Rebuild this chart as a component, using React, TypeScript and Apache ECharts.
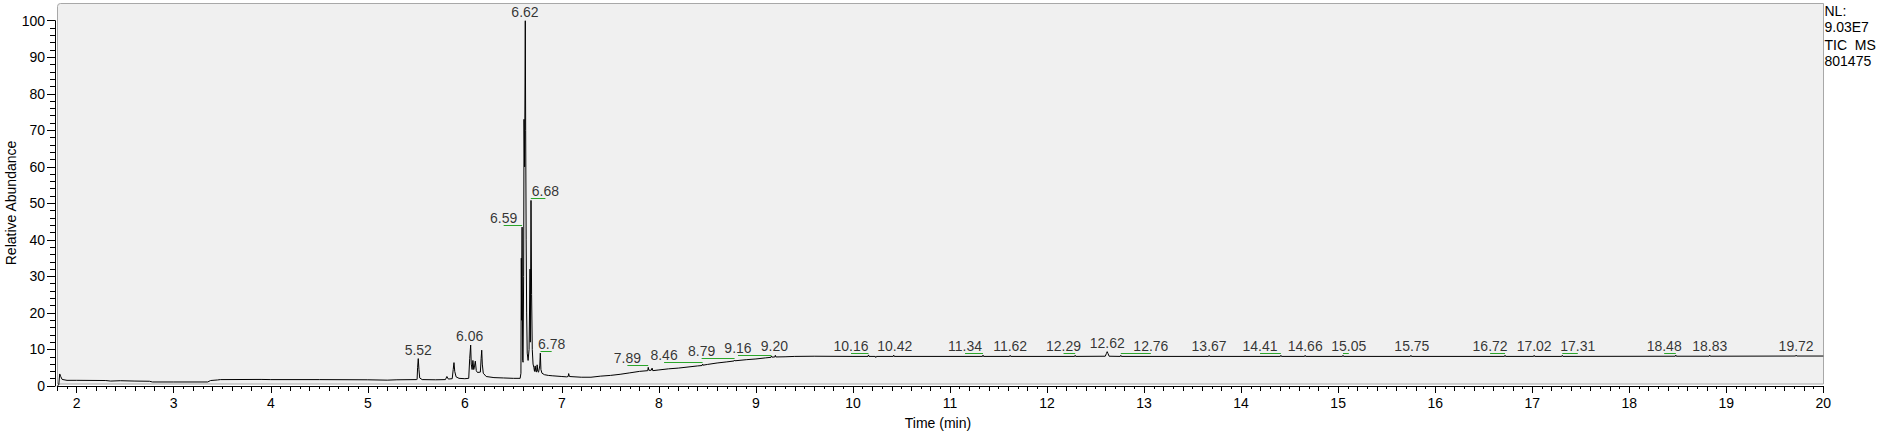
import React, { useEffect, useRef } from "react";
import * as echarts from "echarts";

// ---------- data ----------
const TRACE_EARLY: [number, number][] = [
  [1.8, 0], [1.815, 0.3], [1.825, 3.3], [1.835, 2.6], [1.85, 1.8], [1.9, 1.55],
  [2.0, 1.55], [2.3, 1.5], [2.35, 1.35], [2.45, 1.45], [2.6, 1.35], [2.75, 1.3],
  [2.78, 1.1], [3.0, 1.1], [3.35, 1.1], [3.38, 1.5], [3.45, 1.65], [3.48, 1.75],
  [3.9, 1.8], [4.0, 1.75], [4.5, 1.75], [5.0, 1.7], [5.2, 1.6], [5.3, 1.7], [5.5, 1.75],
];

const TRACE_CLUSTER: [number, number][] = [
  [5.508, 1.8], [5.513, 5.0], [5.52, 7.5], [5.527, 4.5], [5.535, 2.2], [5.56, 1.75],
  [5.7, 1.7], [5.8, 1.75], [5.815, 2.6], [5.83, 1.9], [5.87, 2.0], [5.88, 4.5],
  [5.888, 6.4], [5.896, 4.0], [5.91, 2.5], [5.94, 2.1], [6.0, 2.0], [6.04, 2.1],
  [6.05, 7.5], [6.06, 11.2], [6.066, 6.0], [6.075, 4.5], [6.083, 7.0], [6.092, 4.5],
  [6.1, 5.5], [6.108, 6.8], [6.118, 4.2], [6.13, 3.7], [6.16, 3.8], [6.168, 7.5],
  [6.174, 9.8], [6.18, 6.0], [6.19, 3.5], [6.22, 2.6], [6.3, 2.3], [6.4, 2.2],
  [6.5, 2.1], [6.57, 2.1], [6.578, 3.5], [6.582, 35], [6.585, 18], [6.59, 43.5],
  [6.596, 7], [6.6, 6.5], [6.606, 30], [6.61, 73], [6.616, 60], [6.623, 100],
  [6.627, 70], [6.632, 40], [6.637, 20], [6.643, 9], [6.652, 7], [6.662, 10],
  [6.672, 32], [6.675, 12], [6.682, 50.8], [6.688, 25], [6.695, 10], [6.703, 6],
  [6.712, 5], [6.718, 4], [6.725, 5.5], [6.732, 4], [6.739, 3.8], [6.745, 5.8],
  [6.752, 4], [6.76, 3.8], [6.772, 5.5], [6.778, 9.0], [6.784, 4.5], [6.795, 3.5],
  [6.82, 3.1], [6.86, 2.9], [6.9, 2.8],
];

const TRACE_RAMP: [number, number][] = [
  [7.0, 2.6], [7.05, 2.5], [7.065, 2.6], [7.07, 3.4], [7.078, 2.6], [7.2, 2.4],
  [7.3, 2.4], [7.4, 2.7], [7.5, 2.9], [7.6, 3.2], [7.7, 3.6], [7.8, 4.0],
  [7.885, 4.2], [7.89, 5.1], [7.897, 4.3], [7.92, 4.3], [7.93, 4.9], [7.937, 4.2],
  [8.0, 4.4], [8.1, 4.7], [8.2, 4.9], [8.3, 5.2], [8.4, 5.5], [8.445, 5.6],
  [8.45, 6.0], [8.455, 5.7], [8.5, 5.9], [8.6, 6.3], [8.7, 6.6], [8.775, 6.85],
  [8.78, 7.1], [8.785, 6.9], [8.9, 7.2], [9.0, 7.4], [9.1, 7.7], [9.155, 7.85],
  [9.16, 8.2], [9.165, 7.9], [9.195, 7.95], [9.2, 8.4], [9.205, 7.95], [9.3, 8.0],
];

const TRACE_LATE: [number, number][] = [
  [9.4, 8.1], [9.6, 8.15], [10.0, 8.1], [10.155, 8.1], [10.16, 8.5], [10.165, 8.1],
  [10.23, 8.1], [10.235, 7.8], [10.24, 8.1], [10.415, 8.1], [10.42, 8.45], [10.425, 8.1],
  [11.0, 8.1], [11.335, 8.1], [11.34, 8.45], [11.345, 8.1], [11.615, 8.1], [11.62, 8.4],
  [11.625, 8.1], [12.285, 8.1], [12.29, 8.4], [12.295, 8.1], [12.6, 8.15], [12.612, 8.9],
  [12.62, 9.4], [12.628, 8.9], [12.64, 8.15], [12.755, 8.1], [12.76, 8.4], [12.765, 8.1],
  [13.665, 8.1], [13.67, 8.4], [13.675, 8.1], [14.405, 8.1], [14.41, 8.4], [14.415, 8.1],
  [14.655, 8.1], [14.66, 8.4], [14.665, 8.1], [15.045, 8.1], [15.05, 8.4], [15.055, 8.1],
  [15.745, 8.1], [15.75, 8.4], [15.755, 8.1], [16.715, 8.1], [16.72, 8.4], [16.725, 8.1],
  [17.015, 8.1], [17.02, 8.4], [17.025, 8.1], [17.305, 8.1], [17.31, 8.4], [17.315, 8.1],
  [18.475, 8.15], [18.48, 8.45], [18.485, 8.15], [18.825, 8.15], [18.83, 8.45], [18.835, 8.15],
  [19.715, 8.2], [19.72, 8.45], [19.725, 8.2], [20.0, 8.2],
];

// peak annotations
const PEAK_LABELS = ["5.52", "6.06", "6.59", "6.62", "6.68", "6.78", "7.89", "8.46", "8.79", "9.16",
  "9.20", "10.16", "10.42", "11.34", "11.62", "12.29", "12.62", "12.76", "13.67", "14.41",
  "14.66", "15.05", "15.75", "16.72", "17.02", "17.31", "18.48", "18.83", "19.72"];
const PEAK_TIMES = [5.52, 6.06, 6.59, 6.62, 6.68, 6.78, 7.89, 8.45, 8.78, 9.16,
  9.2, 10.16, 10.42, 11.34, 11.62, 12.29, 12.62, 12.76, 13.67, 14.41,
  14.66, 15.05, 15.75, 16.72, 17.02, 17.31, 18.48, 18.83, 19.72];
const LABEL_TIMES = [5.52, 6.05, 6.40, 6.62, 6.83, 6.895, 7.675, 8.053, 8.44, 8.815,
  9.19, 9.98, 10.43, 11.155, 11.62, 12.17, 12.62, 13.07, 13.67, 14.195,
  14.66, 15.11, 15.76, 16.566, 17.02, 17.47, 18.36, 18.83, 19.72];
const PEAK_HEIGHTS = [7.5, 11.2, 43.5, 100, 50.8, 9.0, 5.2, 5.9, 7.0, 7.9,
  8.4, 8.4, 8.4, 8.4, 8.4, 8.4, 9.4, 8.4, 8.4, 8.4,
  8.4, 8.4, 8.4, 8.4, 8.4, 8.4, 8.4, 8.4, 8.4];

const X_MAJOR_TICKS = [2, 3, 4, 5, 6, 7, 8, 9, 10, 11, 12, 13, 14, 15, 16, 17, 18, 19, 20];
const INFO_LINES = ["NL:", "9.03E7", "TIC  MS", "801475"];

const FONT = "'Liberation Sans', Arial, sans-serif";
const FS = 14;

export default function App() {
  const ref = useRef<HTMLDivElement>(null);

  useEffect(() => {
    if (!ref.current) return;
    const chart = echarts.init(ref.current, null, { renderer: "svg" });

    const trace = [...TRACE_EARLY, ...TRACE_CLUSTER, ...TRACE_RAMP, ...TRACE_LATE];
    const labelData = PEAK_LABELS.map((t, i) => [LABEL_TIMES[i], PEAK_HEIGHTS[i], t]);
    const leaderData = PEAK_LABELS.map((_, i) => i)
      .filter((i) => Math.abs(LABEL_TIMES[i] - PEAK_TIMES[i]) > 0.02)
      .map((i) => ({
        coords: [
          [LABEL_TIMES[i], PEAK_HEIGHTS[i] + 0.55],
          [PEAK_TIMES[i], PEAK_HEIGHTS[i] + 0.55],
        ],
      }));

    const baseX = {
      type: "value",
      min: 1.8,
      max: 20,
      position: "bottom",
      splitLine: { show: false },
      axisLabel: { show: false },
    };

    const option: any = {
      animation: false,
      grid: { left: 57.3, right: 56.7, top: 20.7, bottom: 48, outerBoundsMode: "none" },
      graphic: [
        {
          type: "rect",
          z: -100,
          shape: { x: 57.5, y: 3.5, width: 1766, height: 380.5, r: [3, 0, 0, 0] },
          style: { fill: "#f0f0f0", stroke: "#a8a8a8", lineWidth: 1 },
          silent: true,
        },
        {
          type: "text",
          x: 11,
          y: 203,
          rotation: Math.PI / 2,
          style: { text: "Relative Abundance", font: `${FS}px ${FONT}`, fill: "#000", align: "center", verticalAlign: "middle" },
        },
        {
          type: "text",
          x: 938,
          y: 423,
          style: { text: "Time (min)", font: `${FS}px ${FONT}`, fill: "#000", align: "center", verticalAlign: "middle" },
        },
        ...INFO_LINES.map((t, i) => ({
          type: "text",
          x: 1824.5,
          y: [11, 27, 45, 61][i],
          style: { text: t, font: `${FS}px ${FONT}`, fill: "#000", align: "left", verticalAlign: "middle" },
        })),
      ],
      xAxis: [
        {
          ...baseX,
          interval: 0.1,
          axisLine: { show: true, lineStyle: { color: "#000", width: 1 } },
          axisTick: { show: true, length: 3, lineStyle: { color: "#000" } },
        },
        {
          ...baseX,
          interval: 0.2,
          axisLine: { show: false },
          axisTick: { show: true, length: 5, lineStyle: { color: "#000" } },
        },
        {
          ...baseX,
          axisLine: { show: false },
          axisTick: { show: true, length: 7, customValues: X_MAJOR_TICKS, lineStyle: { color: "#000" } },
          axisLabel: {
            show: true,
            customValues: X_MAJOR_TICKS,
            margin: 10,
            color: "#000",
            fontSize: FS,
            fontFamily: FONT,
          },
        },
      ],
      yAxis: {
        type: "value",
        min: 0,
        max: 100,
        interval: 10,
        offset: 2.3,
        splitLine: { show: false },
        axisLine: { show: true, lineStyle: { color: "#000", width: 1 } },
        axisTick: { show: true, length: 8, lineStyle: { color: "#000" } },
        minorTick: { show: true, splitNumber: 5, length: 5, lineStyle: { color: "#000" } },
        axisLabel: { margin: 10, color: "#000", fontSize: FS, fontFamily: FONT },
      },
      series: [
        {
          type: "line",
          data: trace,
          xAxisIndex: 0,
          showSymbol: false,
          symbol: "none",
          lineStyle: { color: "#000", width: 1 },
          z: 3,
          silent: true,
        },
        {
          type: "lines",
          coordinateSystem: "cartesian2d",
          xAxisIndex: 0,
          data: leaderData,
          lineStyle: { color: "#2aa52a", width: 1, opacity: 1 },
          z: 4,
          silent: true,
        },
        {
          type: "scatter",
          xAxisIndex: 0,
          data: labelData,
          symbolSize: 0,
          clip: false,
          z: 5,
          silent: true,
          label: {
            show: true,
            position: "top",
            distance: 2,
            formatter: (p: any) => p.value[2],
            color: "#000",
            fontSize: FS,
            fontFamily: FONT,
          },
        },
      ],
    };

    chart.setOption(option);
    return () => chart.dispose();
  }, []);

  return (
    <div
      ref={ref}
      style={{ position: "fixed", left: 0, top: 0, width: 1880, height: 434, background: "#fff" }}
    />
  );
}
